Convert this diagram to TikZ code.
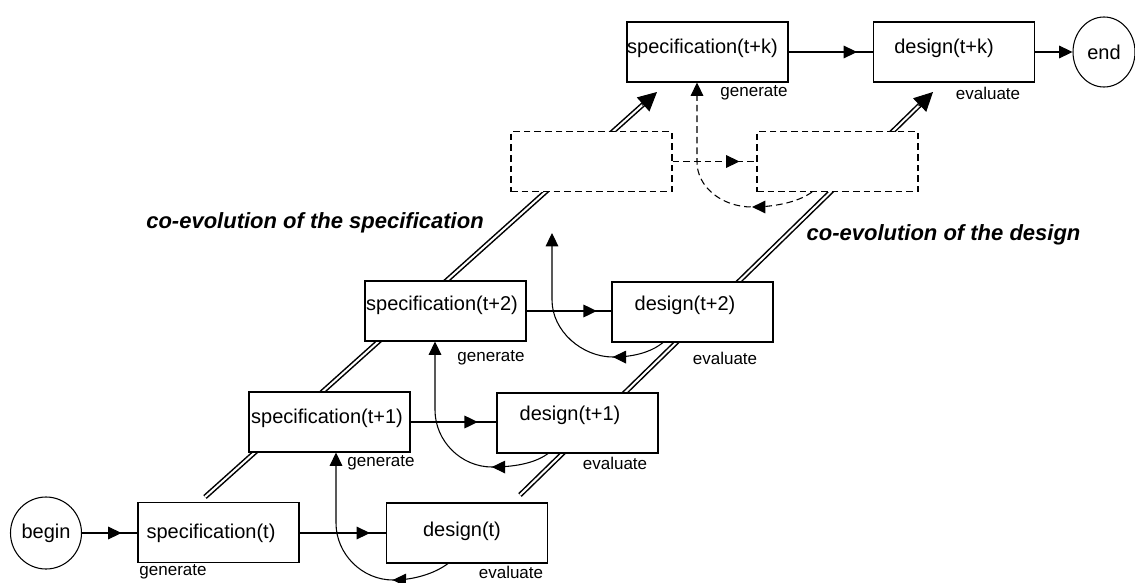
\documentclass[tikz,border=0pt]{standalone}
\usepackage{fontspec}
\setmainfont{Liberation Sans}
\usetikzlibrary{arrows.meta,decorations.markings,calc,shapes.geometric}
\begin{document}
\begin{tikzpicture}[x=0.75pt,y=-0.75pt,
  >={Triangle[length=10pt,width=9.5pt]},
  box/.style={draw, line width=0.8pt, fill=white, minimum width=120.75pt, minimum height=45pt, inner sep=0pt},
  dbox/.style={box, dash pattern=on 5pt off 3pt},
  circ/.style={draw, line width=0.8pt, fill=white, ellipse, inner sep=0pt, font=\fontsize{15}{18}\selectfont},
  txt/.style={font=\fontsize{15}{18}\selectfont, inner sep=0pt},
  lbl/.style={font=\fontsize{12.75}{15}\selectfont, inner sep=0pt},
  evo/.style={font=\fontsize{16.5}{20}\selectfont\bfseries\itshape, inner sep=0pt},
  conn/.style={draw, line width=0.8pt},
  dconn/.style={conn, dash pattern=on 5pt off 3pt},
  dbl/.style={draw, line width=1.15pt, double, double distance=1.5pt},
  bigtip/.style={line width=0.75pt, -{Triangle[length=14pt,width=14pt]}},
  midarrow/.style={postaction={decorate}, decoration={markings, mark=at position #1 with {\arrow{>}}}}
]
\useasboundingbox (0,0) rectangle (1135,582);

% co-evolution double arrows (behind the boxes)
\coordinate (Ls) at (205,497);
\coordinate (Lt) at (657,92);
\coordinate (Rs) at (520,495);
\coordinate (Rt) at (933,92);
\draw[dbl] (Ls) -- ($(Lt)!12pt!(Ls)$);
\draw[bigtip] ($(Lt)!15pt!(Ls)$) -- (Lt);
\draw[dbl] (Rs) -- ($(Rt)!12pt!(Rs)$);
\draw[bigtip] ($(Rt)!15pt!(Rs)$) -- (Rt);

% boxes
\node[circ, minimum width=53.25pt, minimum height=54pt] (begin) at (46,533) {begin};
\node[box] (s0) at (218.5,532.5) {};
\node[box] (d0) at (467,533) {};
\node[box] (s1) at (329.5,422) {};
\node[box] (d1) at (577.5,423) {};
\node[box] (s2) at (445.5,311) {};
\node[box] (d2) at (692.5,312) {};
\node[dbox] (dl) at (591.5,161.5) {};
\node[dbox] (dr) at (837.5,161.5) {};
\node[box] (sk) at (707.5,52) {};
\node[box] (dk) at (954,52) {};
\node[circ, minimum width=46.5pt, minimum height=52.5pt] (end) at (1104,52) {end};

% box texts
\node[txt] (s0t) at (211,533) {specification(t)};
\node[txt] (d0t) at (462,531) {design(t)};
\node[txt] (s1t) at (327,418) {specification(t+1)};
\node[txt] (d1t) at (570,415) {design(t+1)};
\node[txt] (s2t) at (442,305) {specification(t+2)};
\node[txt] (d2t) at (685,305) {design(t+2)};
\node[txt] (skt) at (702.5,48) {specification(t+k)};
\node[txt] (dkt) at (944,48) {design(t+k)};

% labels
\node[lbl] (g0) at (173,572) {generate};
\node[lbl] (e0) at (511,572) {evaluate};
\node[lbl] (g1) at (381,463) {generate};
\node[lbl] (e1) at (615,463) {evaluate};
\node[lbl] (g2) at (491,358) {generate};
\node[lbl] (e2) at (725,358) {evaluate};
\node[lbl] (gk) at (754,93) {generate};
\node[lbl] (ek) at (988,93) {evaluate};
\node[evo] (evs) at (315,223) {co-evolution of the specification};
\node[evo] (evd) at (943.5,235) {co-evolution of the design};

% horizontal connectors
\draw[conn, midarrow=-12pt] (begin.east) -- (s0.west |- begin.east);
\draw[conn, midarrow=-12pt] (s0.east |- d0.west) -- (d0.west);
\draw[conn, midarrow=-14pt] (s1.east) -- (s1.east -| d1.west);
\draw[conn, midarrow=-11pt] (s2.east) -- (s2.east -| d2.west);
\draw[dconn, midarrow=-12.75pt] (dl.east) -- (dl.east -| dr.west);
\draw[conn, midarrow=-12pt] (sk.east) -- (sk.east -| dk.west);
\draw[conn, ->] (dk.east) -- (end.west);

% feedback loops
\coordinate (free2) at (552,233);
\draw[conn, midarrow=44pt, ->] ($(d0.south)+(-19,0)$) .. controls (434,574) and (413,580) .. (393,580)
  .. controls (362,580) and (336,554) .. (336,523) -- ($(s1.south)+(6.5,0)$);
\draw[conn, midarrow=44pt, ->] ($(d1.south)+(-29.5,0)$) .. controls (534,464) and (512,467) .. (492,467)
  .. controls (461,467) and (435,441) .. (435,410) -- ($(s2.south)+(-10.5,0)$);
\draw[conn, midarrow=40pt, ->] ($(d2.south)+(-29.5,0)$) .. controls (650,353) and (632,357) .. (613,357)
  .. controls (582,357) and (552,331) .. (552,300) -- (free2);
\draw[dconn, midarrow=47pt, ->] ($(dr.south)+(-25.5,0)$) .. controls (797,203) and (772,207) .. (752,207)
  .. controls (722,207) and (697,187) .. (697,162) -- ($(sk.south)+(-10.5,0)$);
\end{tikzpicture}
\end{document}
